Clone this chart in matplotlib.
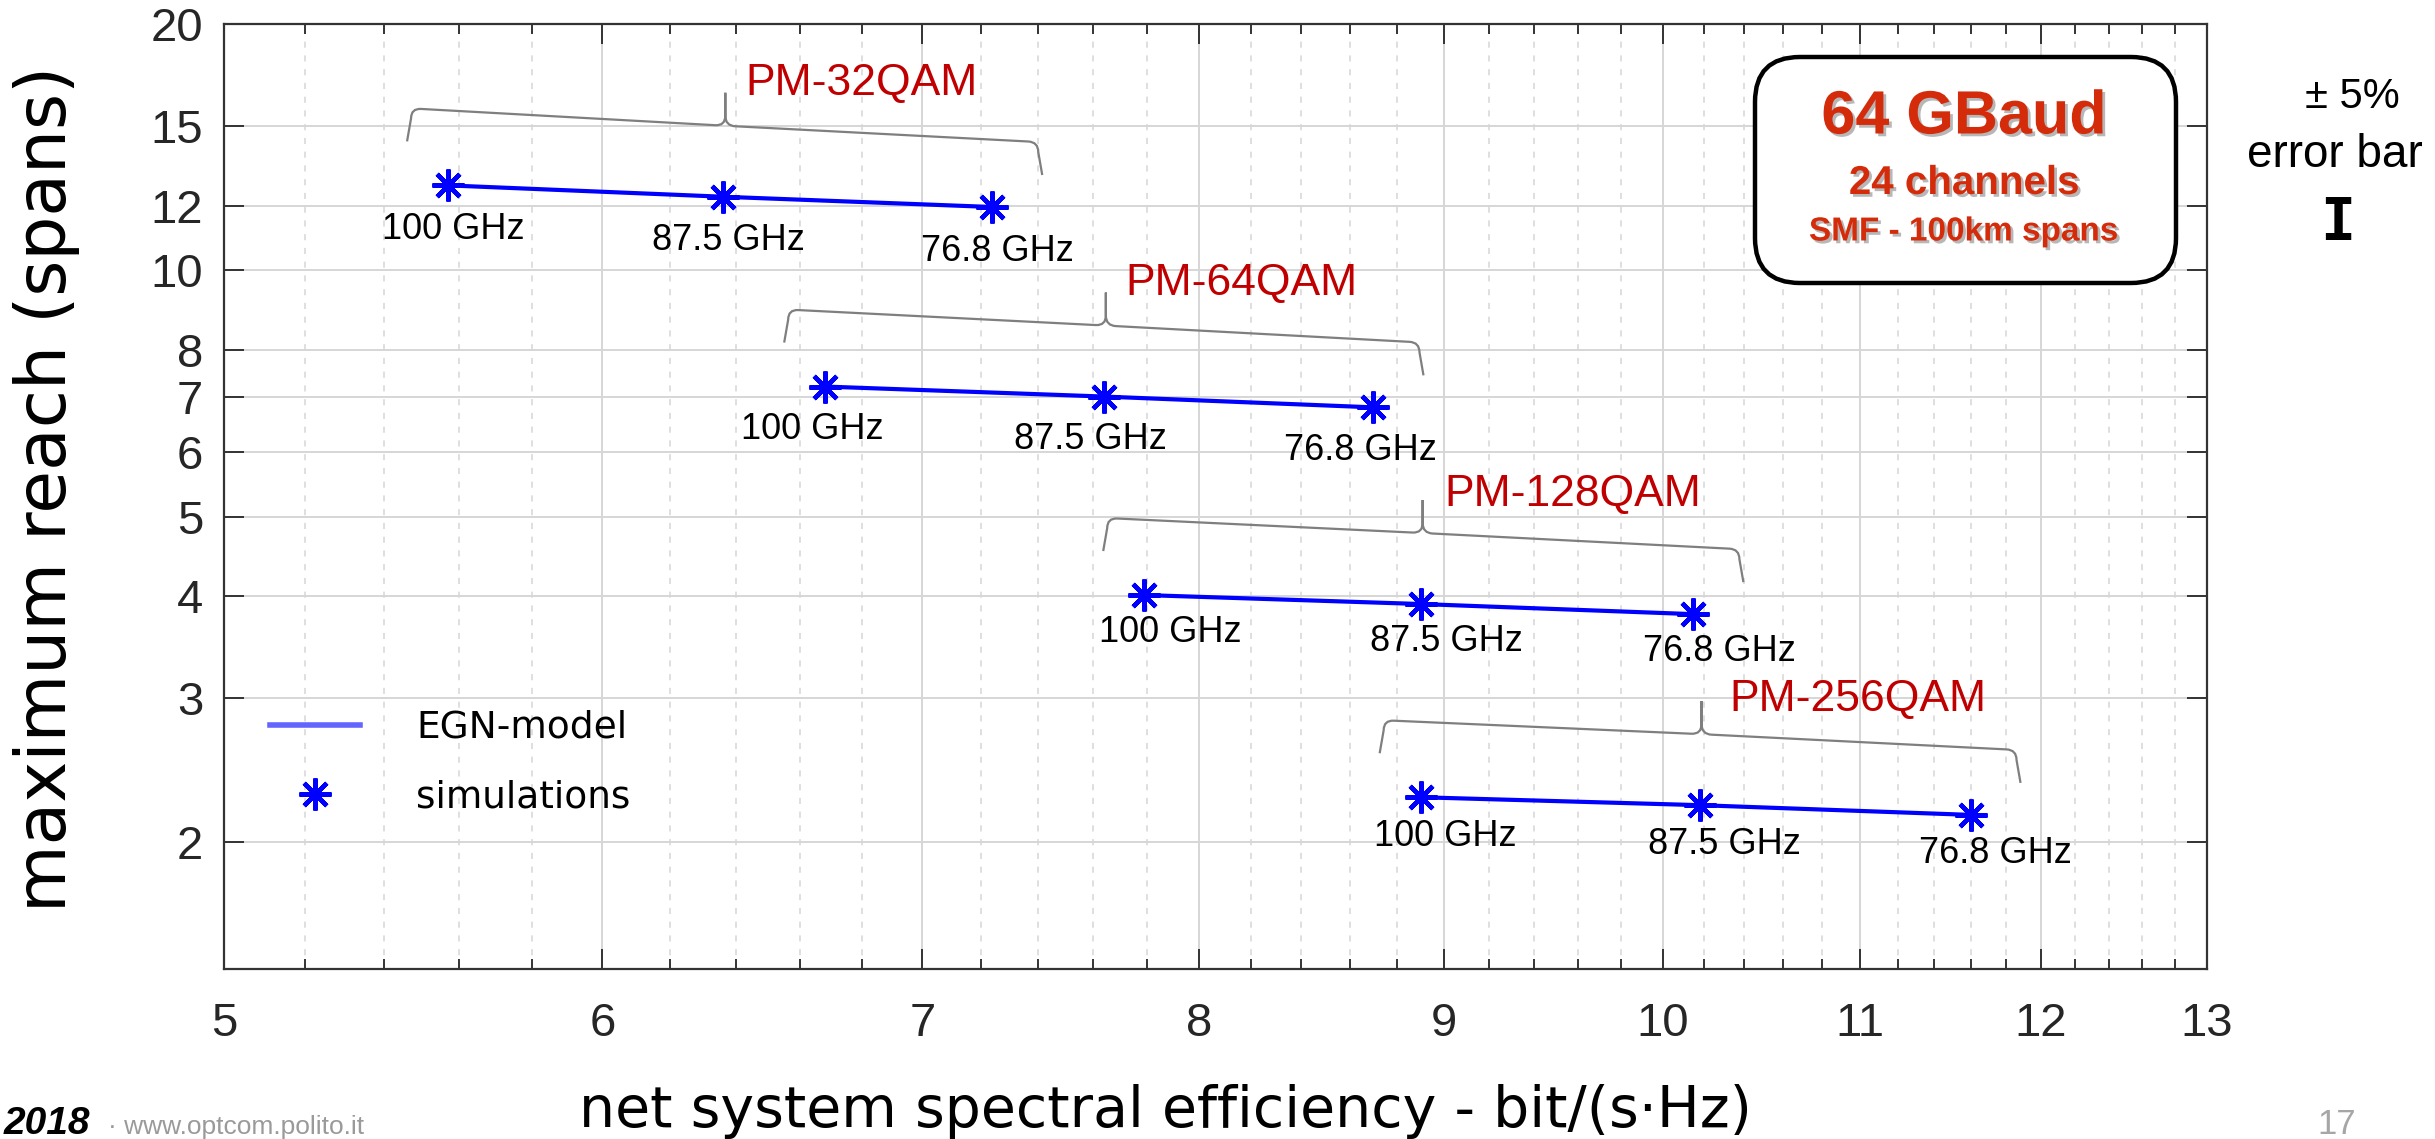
import matplotlib
matplotlib.use('Agg')
import matplotlib.pyplot as plt
import matplotlib.ticker as mtick
import matplotlib.patheffects as pe
from matplotlib import font_manager
from matplotlib.lines import Line2D
from matplotlib.patches import FancyBboxPatch, PathPatch
from matplotlib.path import Path
from matplotlib.transforms import IdentityTransform
import numpy as np

# data (net SE in bit/(s*Hz), max reach in spans)
spacing = ['100 GHz', '87.5 GHz', '76.8 GHz']
formats = ['PM-32QAM', 'PM-64QAM', 'PM-128QAM', 'PM-256QAM']

se_32qam = [5.57, 6.36, 7.24]
reach_32qam = [12.7, 12.3, 11.95]
se_64qam = [6.68, 7.64, 8.70]
reach_64qam = [7.21, 7.01, 6.80]
se_128qam = [7.79, 8.90, 10.15]
reach_128qam = [4.01, 3.91, 3.80]
se_256qam = [8.90, 10.18, 11.60]
reach_256qam = [2.27, 2.22, 2.16]

x_ticks = [5, 6, 7, 8, 9, 10, 11, 12, 13]
y_ticks = [2, 3, 4, 5, 6, 7, 8, 10, 12, 15, 20]


def pick_font(names):
    for n in names:
        try:
            font_manager.findfont(font_manager.FontProperties(family=n), fallback_to_default=False)
            return n
        except Exception:
            pass
    return 'DejaVu Sans'


narrow = pick_font(['Liberation Sans Narrow', 'Liberation Sans'])
arial = pick_font(['Liberation Sans', 'Arial'])
label_font = 'DejaVu Sans'

W, H = 2435, 1139
fig = plt.figure(figsize=(W / 100, H / 100), dpi=100)
ax = fig.add_axes([224 / W, 1 - 969 / H, (2207 - 224) / W, (969 - 24) / H])

ax.set_xscale('log')
ax.set_yscale('log')
ax.set_xlim(5, 13)
ax.set_ylim(1.4, 20)

ax.xaxis.set_major_locator(mtick.FixedLocator(x_ticks))
ax.xaxis.set_major_formatter(mtick.FixedFormatter([str(t) for t in x_ticks]))
minor_x = [t + d for t in x_ticks[:-1] for d in (0.2, 0.4, 0.6, 0.8)]
ax.xaxis.set_minor_locator(mtick.FixedLocator(minor_x))
ax.xaxis.set_minor_formatter(mtick.NullFormatter())
ax.yaxis.set_major_locator(mtick.FixedLocator(y_ticks))
ax.yaxis.set_major_formatter(mtick.FixedFormatter([str(t) for t in y_ticks]))
ax.yaxis.set_minor_locator(mtick.NullLocator())

ax.set_axisbelow(True)
ax.grid(which='major', color='#d6d6d6', lw=1.4, ls='-')
ax.xaxis.grid(which='minor', color='#d6d6d6', lw=1.1, ls=(0, (4, 5)))

ax.tick_params(which='both', direction='in', top=True, right=True,
               colors='#262626', width=1.3)
ax.tick_params(which='major', length=14.4, labelsize=34)
ax.tick_params(which='minor', length=7.2)
ax.tick_params(axis='x', pad=24)
ax.tick_params(axis='y', pad=15)
for lab in ax.get_xticklabels() + ax.get_yticklabels():
    lab.set_fontfamily(arial)
for s in ax.spines.values():
    s.set_color('#333333')
    s.set_linewidth(1.6)

groups = [(se_32qam, reach_32qam), (se_64qam, reach_64qam),
          (se_128qam, reach_128qam), (se_256qam, reach_256qam)]
label_off = [(5, 44), (-13, 43), (26, 37), (25, 39)]
title_off = [(22, 102), (22, 102), (24, 98), (30, 94)]

asterisk = (8, 2, 0)
for (se, reach), fmt, (dx, dy), (tx, ty) in zip(groups, formats, label_off, title_off):
    ax.plot(se, reach, color='#0000ff', lw=3, zorder=3)
    ax.plot(se, reach, ls='none', marker=asterisk, ms=23, mew=3.2,
            color='#0000ff', zorder=4)
    for xv, yv, sp in zip(se, reach, spacing):
        ax.annotate(sp, (xv, yv), xytext=(dx, -dy), textcoords='offset pixels',
                    ha='center', va='center', fontsize=26, family=narrow,
                    color='black')
    ax.annotate(fmt, (se[1], reach[1]), xytext=(tx, ty), textcoords='offset pixels',
                ha='left', va='baseline', fontsize=32, family=narrow,
                color='#c00000')

# curly braces over each group, built in pixel space around the points
MO, LI, C3 = Path.MOVETO, Path.LINETO, Path.CURVE3


def brace(se, reach):
    p = ax.transData.transform(np.column_stack([se, reach]))
    L = p[0] + np.array([-37.0, 77.0])
    M = p[1] + np.array([2.0, 71.0])
    R = p[2] + np.array([46.0, 65.0])
    tip = M + np.array([0.0, 33.0])
    uL = (M - L) / np.hypot(*(M - L))
    uR = (R - M) / np.hypot(*(R - M))
    r = 10.0
    up = np.array([0.0, r])
    verts = [L + [-4, -33], L - up, L, L + uL * r, M - uL * r, M, M + up, tip,
             tip, M + up, M, M + uR * r, R - uR * r, R, R - up, R + [4, -33]]
    codes = [MO, LI, C3, C3, LI, C3, C3, LI,
             MO, LI, C3, C3, LI, C3, C3, LI]
    patch = PathPatch(Path(verts, codes), fill=False, edgecolor='#7f7f7f',
                      lw=1.6, transform=IdentityTransform(), clip_on=False)
    fig.patches.append(patch)


for se, reach in groups:
    brace(se, reach)

# legend
handles = [Line2D([], [], color='#6464ff', lw=4),
           Line2D([], [], ls='none', marker=asterisk, ms=23, mew=3.2, color='#0000ff')]
leg = ax.legend(handles, ['EGN-model', 'simulations'], loc='upper left',
                bbox_to_anchor=(0.006, 0.31), frameon=False,
                handlelength=2.4, handletextpad=1.5, labelspacing=0.9,
                numpoints=1, prop={'family': label_font, 'size': 27})

# info box
box = FancyBboxPatch((1755, H - 283), 421, 226,
                     boxstyle='round,pad=0,rounding_size=45',
                     transform=IdentityTransform(), facecolor='white',
                     edgecolor='black', lw=3.2)
fig.patches.append(box)
shadow = [pe.withSimplePatchShadow(offset=(2, -2), shadow_rgbFace='#888888', alpha=0.6)]
fig.text(1964 / W, 1 - 118 / H, '64 GBaud', ha='center', va='center', fontsize=44,
         fontweight='bold', family=narrow, color='#d42b0a', path_effects=shadow)
fig.text(1964 / W, 1 - 183 / H, '24 channels', ha='center', va='center', fontsize=29,
         fontweight='bold', family=narrow, color='#d42b0a', path_effects=shadow)
fig.text(1964 / W, 1 - 232 / H, 'SMF - 100km spans', ha='center', va='center',
         fontsize=24, fontweight='bold', family=narrow, color='#d42b0a',
         path_effects=shadow)

# error bar note
fig.text(2352 / W, 1 - 97 / H, '± 5%', ha='center', va='center', fontsize=30,
         family=narrow, color='black')
fig.text(2335 / W, 1 - 155 / H, 'error bar', ha='center', va='center', fontsize=33,
         family=narrow, color='black')
fig.text(2338 / W, 1 - 224 / H, 'I', ha='center', va='center', fontsize=42,
         family='DejaVu Sans Mono', fontweight='bold', color='black')

# axis labels
fig.text(1165 / W, 1 - 1127 / H, 'net system spectral efficiency - bit/(s·Hz)',
         ha='center', va='baseline', fontsize=41, family=label_font, color='black')
fig.text(47 / W, 1 - 489 / H, 'maximum reach (spans)', rotation=90,
         ha='center', va='center', fontsize=50, family=label_font, color='black')

# slide footer
fig.text(4 / W, 1 - 1134 / H, '2018', ha='left', va='baseline', fontsize=28,
         fontweight='bold', fontstyle='italic', family=arial, color='black')
fig.text(108 / W, 1 - 1134 / H, '· www.optcom.polito.it', ha='left', va='baseline',
         fontsize=19, family=narrow, color='#9a9a9a')
fig.text(2337 / W, 1 - 1134 / H, '17', ha='center', va='baseline', fontsize=25,
         family=arial, color='#a6a6a6')

fig.savefig('out.png', dpi=100)
